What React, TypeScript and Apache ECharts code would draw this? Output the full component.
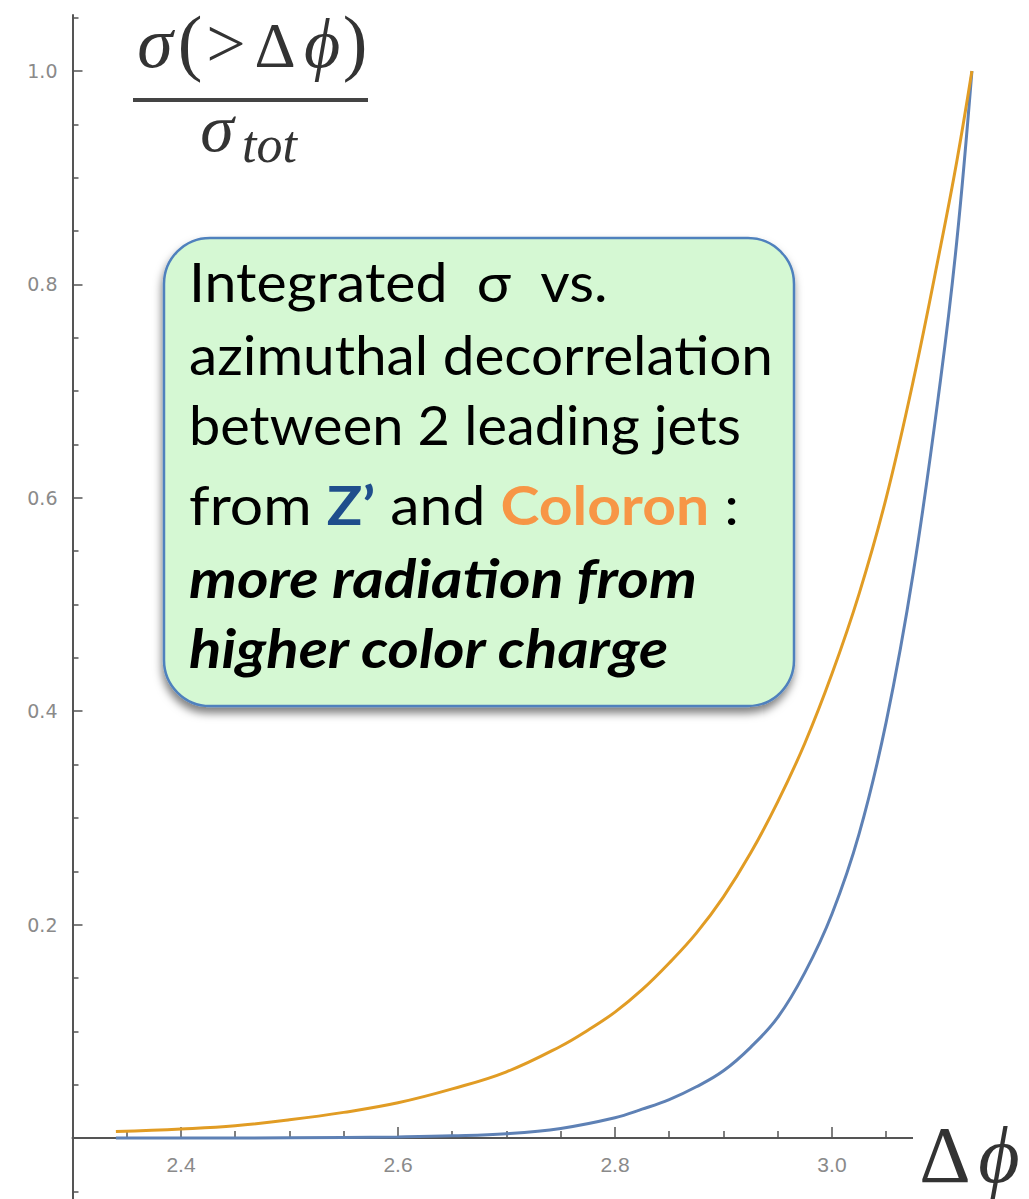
import React, { useEffect, useRef } from "react";
import * as echarts from "echarts";

// Integrated cross-section fraction σ(>Δφ)/σ_tot versus Δφ
const phiColoron = [2.34, 2.4, 2.45, 2.5, 2.55, 2.6, 2.65, 2.7, 2.75, 2.775, 2.8, 2.825, 2.85, 2.875, 2.9, 2.925, 2.95, 2.975, 3.0, 3.025, 3.05, 3.075, 3.1, 3.115, 3.129];
const fracColoron = [0.006, 0.0085, 0.0115, 0.017, 0.024, 0.033, 0.046, 0.062, 0.086, 0.101, 0.118, 0.139, 0.164, 0.192, 0.226, 0.267, 0.315, 0.37, 0.435, 0.51, 0.6, 0.71, 0.835, 0.915, 1.0];

const phiZprime = [2.34, 2.45, 2.55, 2.6, 2.65, 2.7, 2.75, 2.8, 2.825, 2.85, 2.875, 2.9, 2.925, 2.95, 2.975, 3.0, 3.025, 3.05, 3.075, 3.1, 3.115, 3.129];
const fracZprime = [0, 0, 0.0005, 0.001, 0.002, 0.004, 0.009, 0.019, 0.027, 0.036, 0.048, 0.063, 0.085, 0.113, 0.155, 0.21, 0.285, 0.39, 0.53, 0.71, 0.84, 1.0];

// axis ticks
const xMajorTicks = [2.4, 2.6, 2.8, 3.0];
const xMinorTicks = [2.35, 2.45, 2.5, 2.55, 2.65, 2.7, 2.75, 2.85, 2.9, 2.95, 3.05, 3.1];
const yMajorTicks = [0.2, 0.4, 0.6, 0.8, 1.0];
const yMinorTicks = [0.05, 0.1, 0.15, 0.25, 0.3, 0.35, 0.45, 0.5, 0.55, 0.65, 0.7, 0.75, 0.85, 0.9, 0.95, 1.05];
const yBelowTicks = [-0.05];

const X_MIN = 2.3;
const X_MAX = 3.15;
const Y_MIN = 0;
const Y_MAX = 1.0525;
const Y_BELOW = -0.0572;

const AXIS_COLOR = "#555555";
const LABEL_COLOR = "#8a8a8a";
const BLUE = "#5E81B5";
const GOLD = "#E19C24";

const SERIF = "'Liberation Serif', 'DejaVu Serif', serif";
const BOX_FONT = "Lato, 'Open Sans', sans-serif";

const zip = (xs: number[], ys: number[]) => xs.map((x, i) => [x, ys[i]]);

// place text by its alphabetic baseline (SVG text is centred on the em box)
const serifY = (baseline: number, size: number) => baseline - 0.3375 * size;
const latoY = (baseline: number, size: number) => baseline - 0.387 * size;

const NUM_BASE = 67;
const numeratorGlyphs: { ch: string; cx: number; size: number; italic: boolean }[] = [
  { ch: "σ", cx: 155, size: 72, italic: true },
  { ch: "(", cx: 190, size: 74, italic: false },
  { ch: ">", cx: 226, size: 70, italic: false },
  { ch: "Δ", cx: 275, size: 64, italic: false },
  { ch: "ϕ", cx: 322, size: 70, italic: true },
  { ch: ")", cx: 355, size: 74, italic: false },
];

const BOX_SIZE = 54;
const boxLines: { text: string; baseline: number; stretch: number; bold?: boolean }[] = [
  { text: "Integrated  σ  vs.", baseline: 302, stretch: 1.06 },
  { text: "azimuthal decorrelation", baseline: 375, stretch: 1.05 },
  { text: "between 2 leading jets", baseline: 445, stretch: 1.035 },
  { text: "more radiation from", baseline: 598, stretch: 1.12, bold: true },
  { text: "higher color charge", baseline: 668, stretch: 1.11, bold: true },
];

function buildOption(): echarts.EChartsOption {
  const tickStyle = { color: AXIS_COLOR, width: 1.5 };
  const graphics: any[] = [];

  // numerator σ(>Δϕ)
  numeratorGlyphs.forEach((g) => {
    graphics.push({
      type: "text",
      x: g.cx,
      y: serifY(NUM_BASE, g.size),
      style: {
        text: g.ch,
        fill: "#333",
        font: `${g.italic ? "italic " : ""}${g.size}px ${SERIF}`,
        align: "center",
        verticalAlign: "middle",
      },
    });
  });
  // fraction bar
  graphics.push({ type: "rect", shape: { x: 133, y: 98, width: 235, height: 4 }, style: { fill: "#444" } });
  // denominator σ_tot
  graphics.push({
    type: "text",
    x: 217,
    y: serifY(151, 68),
    style: { text: "σ", fill: "#333", font: `italic 68px ${SERIF}`, align: "center", verticalAlign: "middle" },
  });
  graphics.push({
    type: "text",
    x: 242,
    y: serifY(162, 52),
    style: { text: "tot", fill: "#333", font: `italic 52px ${SERIF}`, align: "left", verticalAlign: "middle" },
  });

  // annotation box
  graphics.push({
    type: "rect",
    shape: { x: 164, y: 238, width: 630, height: 468, r: 46 },
    style: {
      fill: "#D5F8D3",
      stroke: "#4F81BD",
      lineWidth: 2.5,
      shadowBlur: 9,
      shadowOffsetX: -1,
      shadowOffsetY: 6,
      shadowColor: "rgba(0,0,0,0.5)",
    },
    z: 10,
  });
  boxLines.forEach((l) => {
    graphics.push({
      type: "text",
      x: 189,
      y: latoY(l.baseline, BOX_SIZE),
      scaleX: l.stretch,
      z: 11,
      style: {
        text: l.text,
        fill: "#000",
        font: `${l.bold ? "italic bold " : ""}${BOX_SIZE}px ${BOX_FONT}`,
        align: "left",
        verticalAlign: "middle",
      },
    });
  });
  graphics.push({
    type: "text",
    x: 189,
    y: latoY(525, BOX_SIZE),
    scaleX: 1.09,
    z: 11,
    style: {
      text: "{n|from }{z|Z’}{n| and }{c|Coloron}{n| :}",
      align: "left",
      verticalAlign: "middle",
      rich: {
        n: { fill: "#000", fontFamily: BOX_FONT, fontSize: BOX_SIZE },
        z: { fill: "#1F4E8C", fontFamily: BOX_FONT, fontSize: BOX_SIZE, fontWeight: "bold" },
        c: { fill: "#F79646", fontFamily: BOX_FONT, fontSize: BOX_SIZE, fontWeight: "bold" },
      },
    },
  });

  // Δϕ axis label on a white patch
  graphics.push({ type: "rect", shape: { x: 913, y: 1127, width: 116, height: 72 }, style: { fill: "#fff" }, z: 10 });
  graphics.push({
    type: "text",
    x: 945,
    y: serifY(1182, 80),
    z: 11,
    style: { text: "Δ", fill: "#333", font: `80px ${SERIF}`, align: "center", verticalAlign: "middle" },
  });
  graphics.push({
    type: "text",
    x: 999,
    y: serifY(1182, 80),
    z: 11,
    style: { text: "ϕ", fill: "#333", font: `italic 80px ${SERIF}`, align: "center", verticalAlign: "middle" },
  });

  const gridBase = { left: 72.5, right: 34.3, outerBoundsMode: "none", containLabel: false } as any;

  return {
    animation: false,
    backgroundColor: "#ffffff",
    grid: [
      { ...gridBase, top: 15, bottom: 61 },
      // continuation of the vertical axis below the Δϕ axis
      { ...gridBase, top: 1138, bottom: 0 },
    ],
    xAxis: [
      {
        type: "value",
        gridIndex: 0,
        min: X_MIN,
        max: X_MAX,
        position: "bottom",
        axisLine: { show: true, onZero: false, lineStyle: { color: AXIS_COLOR, width: 2 } },
        axisTick: { show: true, inside: true, length: 11, customValues: xMajorTicks, lineStyle: tickStyle },
        axisLabel: {
          show: true,
          customValues: xMajorTicks,
          formatter: (v: number) => v.toFixed(1),
          color: LABEL_COLOR,
          fontSize: 21,
          fontFamily: "'Liberation Sans Narrow', 'Liberation Sans', sans-serif",
          margin: 16,
        },
        splitLine: { show: false },
      },
      {
        type: "value",
        gridIndex: 0,
        min: X_MIN,
        max: X_MAX,
        position: "bottom",
        axisLine: { show: false, onZero: false },
        axisTick: { show: true, inside: true, length: 7, customValues: xMinorTicks, lineStyle: tickStyle },
        axisLabel: { show: false },
        splitLine: { show: false },
      },
      {
        type: "value",
        gridIndex: 1,
        min: X_MIN,
        max: X_MAX,
        show: false,
      },
    ],
    yAxis: [
      {
        type: "value",
        gridIndex: 0,
        min: Y_MIN,
        max: Y_MAX,
        position: "left",
        axisLine: { show: true, onZero: false, lineStyle: { color: AXIS_COLOR, width: 2 } },
        axisTick: { show: true, inside: true, length: 10, customValues: yMajorTicks, lineStyle: tickStyle },
        axisLabel: {
          show: true,
          customValues: yMajorTicks,
          formatter: (v: number) => v.toFixed(1),
          color: LABEL_COLOR,
          fontSize: 19,
          fontFamily: "'DejaVu Sans', sans-serif",
          margin: 15,
        },
        splitLine: { show: false },
      },
      {
        type: "value",
        gridIndex: 0,
        min: Y_MIN,
        max: Y_MAX,
        position: "left",
        axisLine: { show: false, onZero: false },
        axisTick: { show: true, inside: true, length: 6, customValues: yMinorTicks, lineStyle: tickStyle },
        axisLabel: { show: false },
        splitLine: { show: false },
      },
      {
        type: "value",
        gridIndex: 1,
        min: Y_BELOW,
        max: 0,
        position: "left",
        axisLine: { show: true, onZero: false, lineStyle: { color: AXIS_COLOR, width: 2 } },
        axisTick: { show: true, inside: true, length: 6, customValues: yBelowTicks, lineStyle: tickStyle },
        axisLabel: { show: false },
        splitLine: { show: false },
      },
    ],
    series: [
      {
        name: "Z’",
        type: "line",
        xAxisIndex: 0,
        yAxisIndex: 0,
        data: zip(phiZprime, fracZprime),
        showSymbol: false,
        smooth: 0.4,
        clip: false,
        lineStyle: { color: BLUE, width: 3 },
        itemStyle: { color: BLUE },
        z: 3,
      },
      {
        name: "Coloron",
        type: "line",
        xAxisIndex: 0,
        yAxisIndex: 0,
        data: zip(phiColoron, fracColoron),
        showSymbol: false,
        smooth: 0.4,
        clip: false,
        lineStyle: { color: GOLD, width: 3 },
        itemStyle: { color: GOLD },
        z: 4,
      },
    ],
    graphic: graphics,
  };
}

export default function App() {
  const ref = useRef<HTMLDivElement>(null);
  useEffect(() => {
    if (!ref.current) return;
    const chart = echarts.init(ref.current, null, { renderer: "svg" });
    chart.setOption(buildOption());
    return () => chart.dispose();
  }, []);
  return (
    <div
      ref={ref}
      style={{ position: "fixed", left: 0, top: 0, width: 1029, height: 1199, background: "#ffffff" }}
    />
  );
}
